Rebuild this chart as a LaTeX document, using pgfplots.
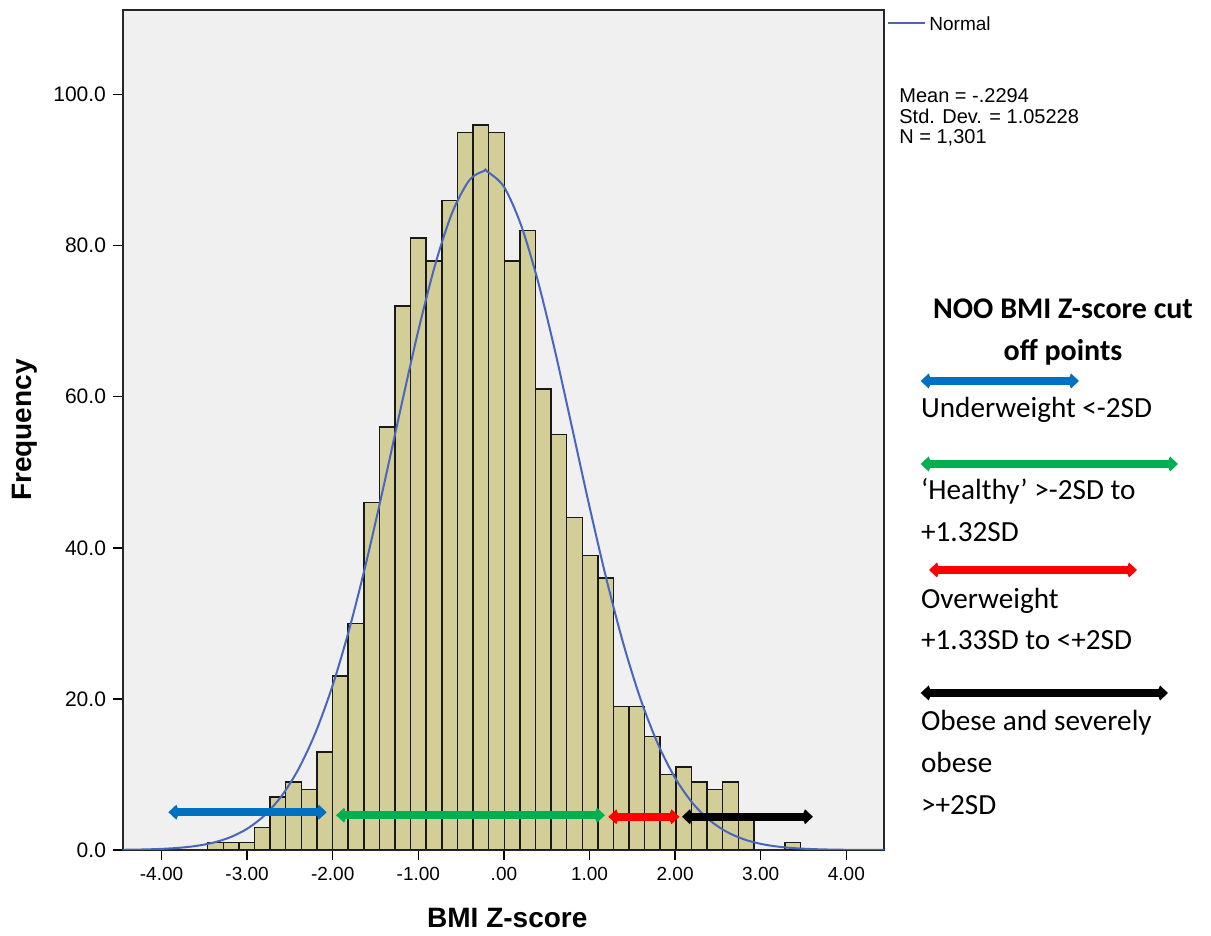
\documentclass[border=0pt]{standalone}
\usepackage{fontspec}
\setmainfont{Liberation Sans}
\newfontfamily\calibri{Carlito}
\usepackage{pgfplots}
\pgfplotsset{compat=1.18}
\usetikzlibrary{arrows.meta}
\definecolor{barfill}{RGB}{211,206,151}
\definecolor{plotbg}{RGB}{240,240,240}
\definecolor{normblue}{RGB}{72,102,190}
\definecolor{arrblue}{RGB}{0,112,192}
\definecolor{arrgreen}{RGB}{0,176,80}
\definecolor{arrred}{RGB}{255,0,0}
\tikzset{hd/.tip={Kite[length=5.5pt,width=7.5pt,inset=1.5pt]}}
\begin{document}
\begin{tikzpicture}
\path[use as bounding box] (0,0) rectangle (605.5pt,468pt);
\begin{axis}[
  scale only axis, width=380.5pt, height=420pt,
  at={(61.5pt,43pt)}, anchor=south west,
  xmin=-4.45, xmax=4.44, ymin=0, ymax=111.2,
  axis background/.style={fill=plotbg},
  axis line style={black!85, line width=0.9pt},
  xtick={-4,-3,-2,-1,0,1,2,3,4},
  xticklabels={-4.00,-3.00,-2.00,-1.00,.00,1.00,2.00,3.00,4.00},
  ytick={0,20,40,60,80,100},
  yticklabels={0.0,20.0,40.0,60.0,80.0,100.0},
  xtick pos=bottom, ytick pos=left, tick align=outside,
  major tick length=5pt,
  tick style={black, line width=0.7pt},
  xticklabel style={font=\fontsize{9.5}{11}\selectfont},
  yticklabel style={font=\fontsize{10.5}{12}\selectfont},
  xlabel={BMI Z-score}, ylabel={Frequency},
  label style={font=\bfseries\fontsize{14}{16}\selectfont},
  xlabel style={at={(axis description cs:0.505,-0.081)}, anchor=center},
  ylabel style={at={(axis description cs:-0.129,0.5)}, anchor=center},
]
\addplot[ybar interval, fill=barfill, draw=black!90, line width=0.75pt] coordinates {
(-3.460,1) (-3.278,1) (-3.095,1) (-2.913,3) (-2.731,7) (-2.549,9) (-2.366,8)
(-2.184,13) (-2.002,23) (-1.819,30) (-1.637,46) (-1.455,56) (-1.273,72)
(-1.090,81) (-0.908,78) (-0.726,86) (-0.543,95) (-0.361,96) (-0.179,95)
(0.004,78) (0.186,82) (0.368,61) (0.550,55) (0.733,44) (0.915,39) (1.097,36)
(1.280,19) (1.462,19) (1.644,15) (1.826,10) (2.009,11) (2.191,9) (2.373,8)
(2.556,9) (2.738,4) (2.920,4)};
\addplot[ybar interval, fill=barfill, draw=black!90, line width=0.75pt] coordinates {
(3.285,1) (3.467,1)};
\addplot[normblue, line width=1pt, smooth] coordinates {
(-4.45,0.03) (-4.4,0.035) (-4.2,0.073) (-4.0,0.146) (-3.8,0.284) (-3.6,0.532)
(-3.4,0.960) (-3.2,1.673) (-3.0,2.809) (-2.8,4.548) (-2.6,7.107) (-2.4,10.709)
(-2.2,15.567) (-2.0,21.825) (-1.8,29.51) (-1.6,38.49) (-1.4,48.42) (-1.2,58.75)
(-1.0,68.76) (-0.8,77.61) (-0.6,84.50) (-0.4,88.73) (-0.2294,89.91) (-0.2,89.87)
(0.0,87.80) (0.2,82.72) (0.4,75.18) (0.6,65.90) (0.8,55.71) (1.0,45.43)
(1.2,35.74) (1.4,27.11) (1.6,19.84) (1.8,14.00) (2.0,9.53) (2.2,6.26)
(2.4,3.963) (2.6,2.420) (2.8,1.426) (3.0,0.810) (3.2,0.444) (3.4,0.235)
(3.6,0.120) (3.8,0.059) (4.0,0.028) (4.2,0.013) (4.44,0.006)};
\addplot[arrblue, line width=4pt, hd-hd] coordinates {(-3.92,5.0) (-2.07,5.0)};
\addplot[arrgreen, line width=4pt, hd-hd] coordinates {(-1.96,4.6) (1.18,4.6)};
\addplot[arrred, line width=4pt, hd-hd] coordinates {(1.22,4.4) (2.05,4.4)};
\addplot[black, line width=4pt, hd-hd] coordinates {(2.08,4.4) (3.61,4.4)};
\end{axis}
% SPSS legend and statistics
\draw[normblue, line width=1pt] (444pt,456.5pt) -- (462.5pt,456.5pt);
\node[anchor=west, inner sep=0pt, font=\fontsize{9.5}{11}\selectfont] at (464.5pt,456pt) {Normal};
\node[anchor=base west, inner sep=0pt, font=\fontsize{10}{12}\selectfont] at (449.5pt,416.5pt) {Mean = -.2294};
\node[anchor=base west, inner sep=0pt, font=\fontsize{10}{12}\selectfont] at (449.5pt,406.3pt) {Std. Dev. = 1.05228};
\node[anchor=base west, inner sep=0pt, font=\fontsize{10}{12}\selectfont] at (449.5pt,396pt) {N = 1,301};
% cut-off key
\begin{scope}[every node/.style={inner sep=0pt, font=\calibri\fontsize{14.6}{18}\selectfont}]
\node[anchor=base, font=\calibri\bfseries\fontsize{15}{18}\selectfont] at (531.5pt,308.75pt) {NOO BMI Z-score cut};
\node[anchor=base, font=\calibri\bfseries\fontsize{15}{18}\selectfont] at (531.5pt,287.8pt) {off points};
\draw[arrblue, line width=4pt, hd-hd] (460.35pt,277.5pt) -- (539.5pt,277.5pt);
\node[anchor=base west] at (460.35pt,259pt) {Underweight <-2SD};
\draw[arrgreen, line width=4pt, hd-hd] (460.35pt,236pt) -- (589pt,236pt);
\node[anchor=base west] at (460.35pt,218pt) {‘Healthy’ >-2SD to};
\node[anchor=base west] at (460.35pt,197pt) {+1.32SD};
\draw[arrred, line width=4pt, hd-hd] (464.5pt,183pt) -- (568.5pt,183pt);
\node[anchor=base west] at (460.35pt,163.5pt) {Overweight};
\node[anchor=base west] at (460.35pt,143pt) {+1.33SD to <+2SD};
\draw[black, line width=4pt, hd-hd] (460.35pt,121.5pt) -- (584pt,121.5pt);
\node[anchor=base west] at (460.35pt,102.5pt) {Obese and severely};
\node[anchor=base west] at (460.35pt,81.7pt) {obese};
\node[anchor=base west] at (460.35pt,60.75pt) {>+2SD};
\end{scope}
\end{tikzpicture}
\end{document}
